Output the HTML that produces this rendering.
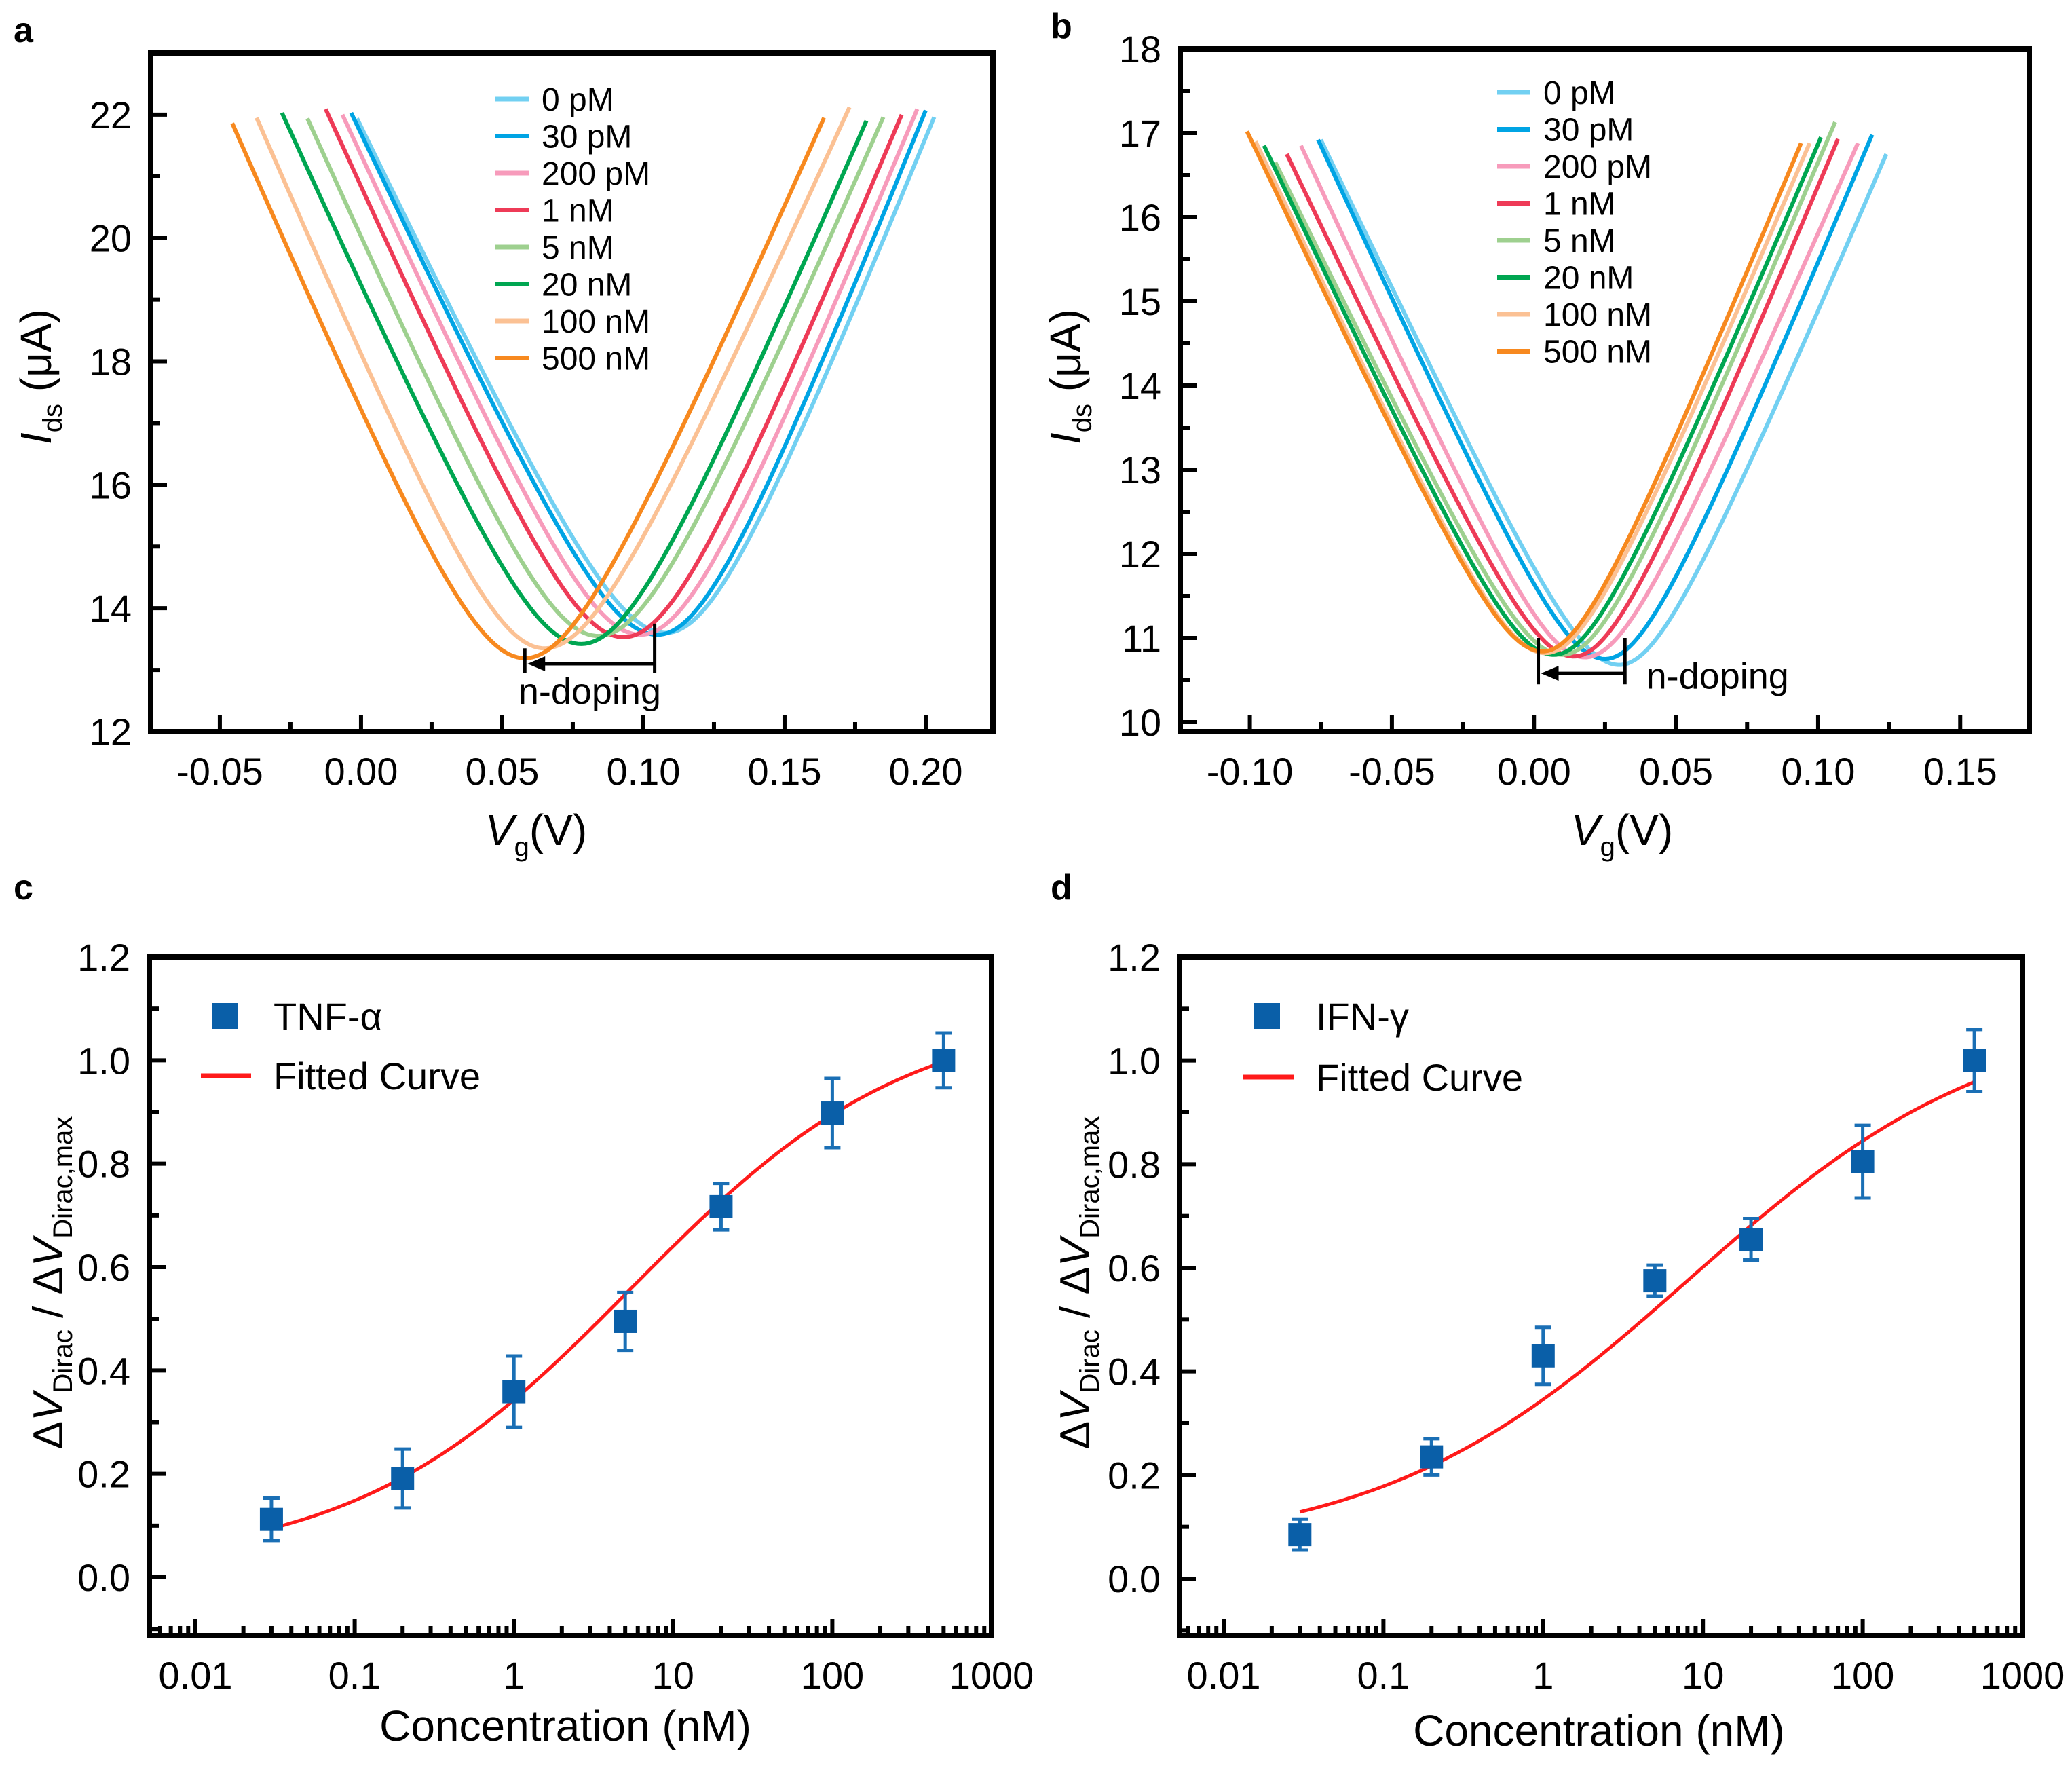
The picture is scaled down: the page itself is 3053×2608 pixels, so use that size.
<!DOCTYPE html>
<html><head><meta charset="utf-8"><style>
html,body{margin:0;padding:0;background:#fff;}
svg{display:block;font-family:"Liberation Sans",Arial,sans-serif;}
</style></head><body>
<svg id="fig" width="3053" height="2608" viewBox="0 0 3053 2608" xmlns="http://www.w3.org/2000/svg">
<rect width="3053" height="2608" fill="#fff"/>
<text x="20" y="62" font-size="52" font-weight="bold">a</text>
<text x="1548" y="56" font-size="52" font-weight="bold">b</text>
<text x="20" y="1325" font-size="52" font-weight="bold">c</text>
<text x="1548" y="1325" font-size="52" font-weight="bold">d</text>
</svg>
<script>
const NS="http://www.w3.org/2000/svg";
const svg=document.getElementById('fig');
function mk(tag,attrs,parent){const e=document.createElementNS(NS,tag);for(const k in attrs)e.setAttribute(k,attrs[k]);(parent||svg).appendChild(e);return e;}

// ---------- data ----------
const seriesLabels=["0 pM","30 pM","200 pM","1 nM","5 nM","20 nM","100 nM","500 nM"];
const seriesColors=["#72d0f2","#00a4e4","#f79bbb","#ee3b57","#9ed08f","#00a651","#fbc194","#f7891f"];
// panel a
const aDirac=[0.108,0.105,0.099,0.093,0.084,0.078,0.065,0.058];
const aImin=[13.6,13.57,13.57,13.53,13.55,13.42,13.35,13.19];
const aVstart=[-0.0014,-0.0035,-0.0066,-0.0125,-0.019,-0.028,-0.037,-0.0456];
const aIstart=[21.94,22.03,22.0,22.09,21.94,22.03,21.95,21.86];
const aVend=[0.203,0.200,0.197,0.1915,0.185,0.179,0.173,0.164];
const aIend=[21.96,22.07,22.09,22.0,21.96,21.9,22.12,21.95];
// panel b
const bDirac=[0.030,0.025,0.018,0.014,0.010,0.007,0.004,0.003];
const bImin=[10.68,10.75,10.77,10.78,10.8,10.8,10.82,10.84];
const bVstart=[-0.075,-0.076,-0.082,-0.087,-0.091,-0.095,-0.098,-0.101];
const bIstart=[16.92,16.92,16.85,16.75,16.65,16.85,16.9,17.02];
const bVend=[0.124,0.119,0.114,0.107,0.106,0.101,0.097,0.094];
const bIend=[16.75,16.98,16.88,16.93,17.13,16.95,16.88,16.88];
// panel c
const cConc=[0.03,0.2,1,5,20,100,500];
const cVal=[0.112,0.191,0.359,0.495,0.717,0.898,1.0];
const cErr=[0.041,0.057,0.069,0.056,0.045,0.067,0.053];
const cFit=[0.02,1.1,5.5,0.5]; // bottom, top, x0, power
// panel d
const dConc=[0.03,0.2,1,5,20,100,500];
const dVal=[0.085,0.235,0.43,0.575,0.655,0.805,1.0];
const dErr=[0.03,0.035,0.055,0.03,0.04,0.07,0.06];
const dFit=[0.05,1.1,8,0.45];

// ---------- helpers ----------
function frame(L,T,R,B,name){mk('rect',{x:L,y:T,width:R-L,height:B-T,fill:'none',stroke:'#000','stroke-width':8,});}
function lin(d0,d1,p0,p1){return v=>p0+(v-d0)/(d1-d0)*(p1-p0);}

function vPanel(o){
  const X=lin(o.xmin,o.xmax,o.L,o.R), Y=lin(o.ymin,o.ymax,o.B,o.T);
  const g=mk('g',{});
  
  
  for(let i=0;i<o.V0.length;i++){
    const w=o.w,V0=o.V0[i],Im=o.Im[i];
    const f=dv=>Math.sqrt(dv*dv+w*w)-w;
    const kL=(o.Is[i]-Im)/f(o.Vs[i]-V0), kR=(o.Ie[i]-Im)/f(o.Ve[i]-V0);
    let d='';const N=160;
    for(let j=0;j<=N;j++){const v=o.Vs[i]+(o.Ve[i]-o.Vs[i])*j/N;const k=v<V0?kL:kR;const I=Im+k*f(v-V0);d+=(j?'L':'M')+X(v).toFixed(1)+' '+Y(I).toFixed(1);}
    const p=mk('path',{d:d,fill:'none',stroke:seriesColors[i],'stroke-width':6,'stroke-linejoin':'round'},g);
    
    
  }
  frame(o.L,o.T,o.R,o.B,o.name+'-frame');
  for(let v=o.ymin0;v<=o.ymax+1e-9;v+=o.yminor){
    const major=Math.abs(Math.round(v/o.ymajor)*o.ymajor-v)<1e-6;
    mk('line',{x1:o.L,x2:o.L+(major?24:14),y1:Y(v),y2:Y(v),stroke:'#000','stroke-width':6},g);
    if(major){const t=mk('text',{x:o.L-28,y:Y(v)+20,'font-size':56,'text-anchor':'end'},g);t.textContent=v.toFixed(0);
      }
  }
  for(let v=o.xmin0;v<=o.xmax+1e-9;v+=o.xminor){
    const major=Math.abs(Math.round(v/o.xmajor)*o.xmajor-v)<1e-6;
    mk('line',{x1:X(v),x2:X(v),y1:o.B,y2:o.B-(major?24:14),stroke:'#000','stroke-width':6},g);
    if(major){const t=mk('text',{x:X(v),y:o.B+78,'font-size':56,'text-anchor':'middle'},g);
      const vv=Math.abs(v)<1e-9?0:v;t.textContent=vv.toFixed(2);
      }
  }
  for(let i=0;i<seriesLabels.length;i++){
    const y=o.legY+i*54.5;
    const ln=mk('line',{x1:o.legX,x2:o.legX+49,y1:y,y2:y,stroke:seriesColors[i],'stroke-width':7},g);
    
    const t=mk('text',{x:o.legX+68,y:y+17,'font-size':48},g);t.textContent=seriesLabels[i];
    
  }
  const a=o.ann;
  mk('line',{x1:X(a.x1),x2:X(a.x1),y1:Y(a.top1),y2:Y(a.bot),stroke:'#000','stroke-width':5},g);
  mk('line',{x1:X(a.x2),x2:X(a.x2),y1:Y(a.top2),y2:Y(a.bot),stroke:'#000','stroke-width':5},g);
  mk('line',{x1:X(a.x2),x2:X(a.x1)+22,y1:Y(a.ya),y2:Y(a.ya),stroke:'#000','stroke-width':5},g);
  mk('path',{d:`M${X(a.x1)+4} ${Y(a.ya)} l26 -11 l0 22 z`,fill:'#000'},g);
  const at=mk('text',{x:X(a.tx),y:Y(a.ty),'font-size':54,'text-anchor':a.anchor},g);at.textContent='n-doping';
  
  const xt=mk('text',{x:o.xtX,y:o.xtY,'font-size':64,'text-anchor':'middle'},g);
  xt.innerHTML='<tspan font-style="italic">V</tspan><tspan font-size="40" dy="16">g</tspan><tspan dy="-16">(V)</tspan>';
  
  const yt=mk('text',{x:0,y:0,'font-size':64,'text-anchor':'middle',transform:`translate(${o.ytX},${o.ytY}) rotate(-90)`},g);
  yt.innerHTML='<tspan font-style="italic">I</tspan><tspan font-size="40" dy="16">ds</tspan><tspan dy="-16"> (μA)</tspan>';
  
}

vPanel({name:'panel-a',L:222,T:78,R:1463,B:1078,xmin:-0.0745,xmax:0.2238,ymin:12,ymax:23,
  ymin0:12,ymajor:2,yminor:1,xmin0:-0.05,xmajor:0.05,xminor:0.025,w:0.026,
  V0:aDirac,Im:aImin,Vs:aVstart,Is:aIstart,Ve:aVend,Ie:aIend,legX:730,legY:146,
  ann:{x1:0.058,x2:0.104,top1:13.35,top2:13.75,bot:12.95,ya:13.1,tx:0.081,ty:12.45,anchor:'middle'},
  xtX:790,xtY:1245,ytX:75,ytY:555});
vPanel({name:'panel-b',L:1739,T:72,R:2990,B:1078,xmin:-0.1245,xmax:0.1743,ymin:18-(1078-72)/124,ymax:18,
  ymin0:10,ymajor:1,yminor:0.5,xmin0:-0.1,xmajor:0.05,xminor:0.025,w:0.02,
  V0:bDirac,Im:bImin,Vs:bVstart,Is:bIstart,Ve:bVend,Ie:bIend,legX:2206,legY:136,
  ann:{x1:0.0015,x2:0.032,top1:11.0,top2:11.0,bot:10.45,ya:10.58,tx:0.0395,ty:10.4,anchor:'start'},
  xtX:2390,xtY:1245,ytX:1592,ytY:555});

function logPanel(o){
  const X=v=>o.x001+(Math.log10(v)+2)*o.dec;
  const Y=lin(0,1.2,o.y0,o.T);
  const g=mk('g',{});
  
  
  frame(o.L,o.T,o.R,o.B,o.name+'-frame');
  for(let v=-0.1;v<=1.2001;v+=0.1){
    const vv=Math.round(v*10)/10;const major=Math.round(vv*10)%2===0;
    if(Y(vv)>o.B-2||Y(vv)<o.T+2)continue;
    mk('line',{x1:o.L,x2:o.L+(major?24:14),y1:Y(vv),y2:Y(vv),stroke:'#000','stroke-width':6},g);
  }
  for(let v=0;v<=1.2001;v+=0.2){const t=mk('text',{x:o.L-28,y:Y(v)+20,'font-size':56,'text-anchor':'end'},g);t.textContent=v.toFixed(1);
    }
  const labs=['0.01','0.1','1','10','100','1000'];
  for(let e=-3;e<=2;e++)for(let m=1;m<=9;m++){
    const v=m*Math.pow(10,e);const x=X(v);if(x<o.L+4||x>o.R-4)continue;
    mk('line',{x1:x,x2:x,y1:o.B,y2:o.B-(m===1?24:14),stroke:'#000','stroke-width':6},g);
  }
  labs.forEach((s,i)=>{const t=mk('text',{x:X(Math.pow(10,i-2)),y:o.B+78,'font-size':56,'text-anchor':'middle'},g);t.textContent=s;
    });
  const F=o.fit;let d='';const N=200;const lo=Math.log10(o.conc[0]),hi=Math.log10(o.conc[o.conc.length-1]);
  for(let j=0;j<=N;j++){const x=Math.pow(10,lo+(hi-lo)*j/N);const y=F[0]+(F[1]-F[0])/(1+Math.pow(F[2]/x,F[3]));d+=(j?'L':'M')+X(x).toFixed(1)+' '+Y(y).toFixed(1);}
  const fp=mk('path',{d:d,fill:'none',stroke:'#ff1a1a','stroke-width':5},g);
  
  for(let i=0;i<o.conc.length;i++){
    const x=X(o.conc[i]),y=Y(o.val[i]),e1=Y(o.val[i]+o.err[i]),e2=Y(o.val[i]-o.err[i]);
    const eb=mk('path',{d:`M${x} ${e1}L${x} ${e2}M${x-12} ${e1}L${x+12} ${e1}M${x-12} ${e2}L${x+12} ${e2}`,stroke:'#1a6fb5','stroke-width':5,fill:'none'},g);
    
    const r=mk('rect',{x:x-17,y:y-17,width:34,height:34,fill:'#0a5fa8'},g);
    
  }
  mk('rect',{x:o.legX+35-19,y:1497-19,width:38,height:38,fill:'#0a5fa8'},g);
  const t1=mk('text',{x:o.legX+107,y:1517,'font-size':56},g);t1.textContent=o.label;
  
  mk('line',{x1:o.legX,x2:o.legX+74,y1:o.legLineY,y2:o.legLineY,stroke:'#ff1a1a','stroke-width':7},g);
  const t2=mk('text',{x:o.legX+107,y:o.legLineY+20,'font-size':56},g);t2.textContent='Fitted Curve';
  
  const xt=mk('text',{x:o.xtX,y:o.xtY,'font-size':64,'text-anchor':'middle'},g);xt.textContent='Concentration (nM)';
  
  const yt=mk('text',{x:0,y:0,'font-size':62,'text-anchor':'middle',transform:`translate(${o.ytX},${o.ytY}) rotate(-90)`},g);
  yt.innerHTML='Δ<tspan font-style="italic">V</tspan><tspan font-size="40" dy="14">Dirac</tspan><tspan dy="-14"> / Δ</tspan><tspan font-style="italic">V</tspan><tspan font-size="40" dy="14">Dirac,max</tspan>';
  
}
logPanel({name:'panel-c',L:220,T:1410,R:1461,B:2410,x001:288,dec:234.6,y0:2324,conc:cConc,val:cVal,err:cErr,fit:cFit,
  label:'TNF-α',legX:296,legLineY:1585,xtX:833,xtY:2565,ytX:92,ytY:1890});
logPanel({name:'panel-d',L:1738,T:1410,R:2980,B:2410,x001:1803,dec:235.4,y0:2326,conc:dConc,val:dVal,err:dErr,fit:dFit,
  label:'IFN-γ',legX:1832,legLineY:1587,xtX:2356,xtY:2572,ytX:1605,ytY:1890});
</script>
</body></html>
